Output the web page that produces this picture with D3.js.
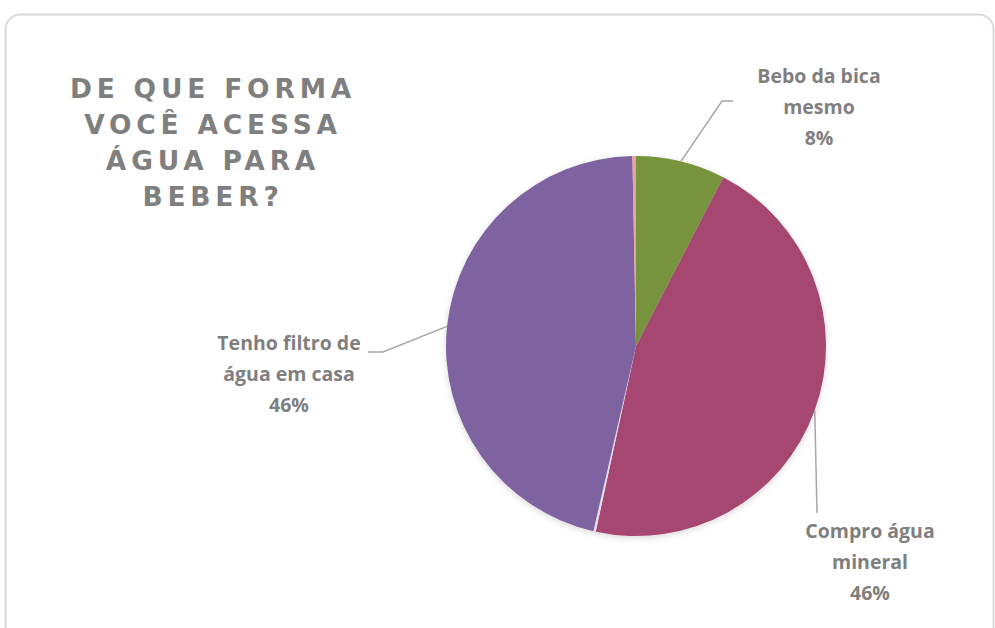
<!DOCTYPE html>
<html>
<head>
<meta charset="utf-8">
<script src="https://cdn.jsdelivr.net/npm/d3@7"></script>
<style>
  body { margin: 0; background: #fff; }
  svg { display: block; }
</style>
</head>
<body>
<div id="chart"></div>
<script>
var w = 995,
  h = 628;

// data (percent of answers, clockwise from 12 o'clock)
var categories = [
  "Bebo da bica mesmo",
  "Compro água mineral",
  "Outro",
  "Tenho filtro de água em casa",
  "Não respondeu",
];
var values = [7.6, 45.8, 0.2, 46.1, 0.3];
var labelLines = [
  ["Bebo da bica", "mesmo"],
  ["Compro água", "mineral"],
  null,
  ["Tenho filtro de", "água em casa"],
  null,
];
var titleLines = ["DE QUE FORMA", "VOCÊ ACESSA", "ÁGUA PARA", "BEBER?"];

var colors = ["#77933c", "#a5466f", "#e4dcef", "#7f63a1", "#e8a49a"];

var cx = 636,
  cy = 346,
  radius = 190;

// leader line elbows / text placement, relative to pie center
var labelLayout = [
  { elbow: [86, -245], end: [97, -245], tx: 183, ty: -263, anchor: "middle" },
  { elbow: [181, 167], end: [181, 167], tx: 234, ty: 192, anchor: "middle" },
  null,
  { elbow: [-253, 6], end: [-268, 6], tx: -347, ty: 4, anchor: "middle" },
  null,
];

var svg = d3
  .select("#chart")
  .append("svg")
  .attr("width", w)
  .attr("height", h);

var defs = svg.append("defs");
var filter = defs
  .append("filter")
  .attr("id", "shadow")
  .attr("x", "-10%")
  .attr("y", "-10%")
  .attr("width", "120%")
  .attr("height", "120%");
filter
  .append("feDropShadow")
  .attr("dx", 0)
  .attr("dy", 2)
  .attr("stdDeviation", 3)
  .attr("flood-color", "#000")
  .attr("flood-opacity", 0.15);

// chart area border
svg
  .append("rect")
  .attr("x", 5.5)
  .attr("y", 14.5)
  .attr("width", 988)
  .attr("height", 630)
  .attr("rx", 15)
  .attr("fill", "#fff")
  .attr("stroke", "#d9d9d9")
  .attr("stroke-width", 2);

// title
svg
  .append("text")
  .attr("font-family", "DejaVu Sans")
  .attr("font-weight", "bold")
  .attr("font-size", 26.5)
  .attr("letter-spacing", 4.8)
  .attr("fill", "#7f7f7f")
  .attr("text-anchor", "middle")
  .selectAll("tspan")
  .data(titleLines)
  .enter()
  .append("tspan")
  .attr("x", 213)
  .attr("y", (d, i) => 98 + i * 36)
  .text((d) => d);

var pie = d3.pie().sort(null).value((d) => d);
var arcs = pie(values);

var arc = d3.arc().innerRadius(0).outerRadius(radius);

var g = svg.append("g").attr("transform", `translate(${cx},${cy})`);

g.append("g")
  .attr("filter", "url(#shadow)")
  .selectAll("path")
  .data(arcs)
  .enter()
  .append("path")
  .attr("d", arc)
  .attr("fill", (d, i) => colors[i]);

var edge = d3.arc().innerRadius(radius).outerRadius(radius);

var labeled = arcs
  .map((d, i) => ({ d: d, i: i }))
  .filter((o) => labelLines[o.i]);

g.selectAll(".leader")
  .data(labeled)
  .enter()
  .append("polyline")
  .attr("class", "leader")
  .attr("fill", "none")
  .attr("stroke", "#a6a6a6")
  .attr("stroke-width", 1.5)
  .attr("points", (o) => {
    var p = edge.centroid(o.d);
    var L = labelLayout[o.i];
    return [p, L.elbow, L.end].map((q) => q.join(",")).join(" ");
  });

var lbl = g
  .selectAll(".label")
  .data(labeled)
  .enter()
  .append("text")
  .attr("class", "label")
  .attr("font-family", "Open Sans")
  .attr("font-weight", "bold")
  .attr("font-size", 19.5)
  .attr("fill", "#7f7f7f")
  .attr("text-anchor", (o) => labelLayout[o.i].anchor);

lbl
  .selectAll("tspan")
  .data((o) =>
    labelLines[o.i]
      .concat([Math.round(values[o.i]) + "%"])
      .map((t, k) => ({ t: t, k: k, L: labelLayout[o.i] }))
  )
  .enter()
  .append("tspan")
  .attr("x", (s) => s.L.tx)
  .attr("y", (s) => s.L.ty + s.k * 31)
  .text((s) => s.t);
</script>
</body>
</html>
